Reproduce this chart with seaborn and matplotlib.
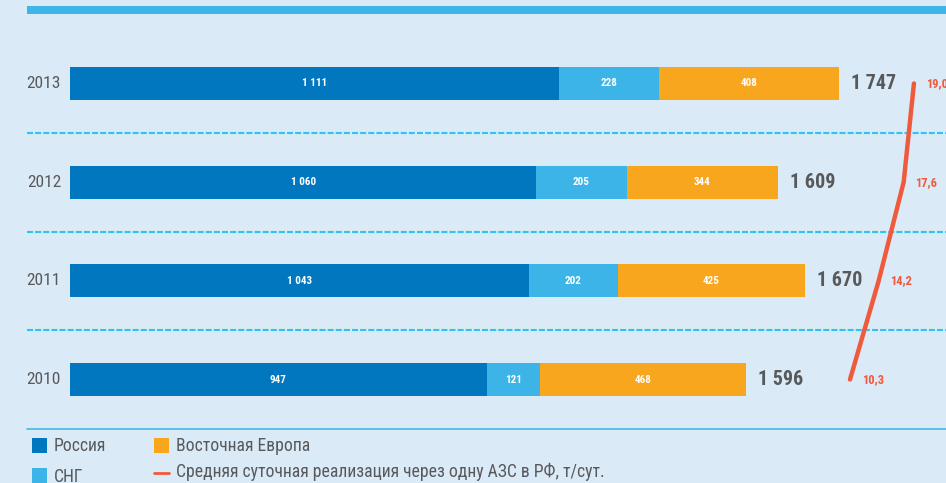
import matplotlib
matplotlib.use("Agg")
import matplotlib.pyplot as plt
from matplotlib.patches import Rectangle
from matplotlib.lines import Line2D
import numpy as np
import pandas as pd
import seaborn as sns

# Data: retail sales volumes by region and average daily sales per station
years = ["2013", "2012", "2011", "2010"]
russia = [1111, 1060, 1043, 947]
cis = [228, 205, 202, 121]
east_europe = [408, 344, 425, 468]
totals = [1747, 1609, 1670, 1596]
avg_daily = [19.0, 17.6, 14.2, 10.3]

legend_labels = ["Россия", "СНГ", "Восточная Европа",
                 "Средняя суточная реализация через одну АЗС в РФ, т/сут."]

# Colours
BG = "#DAEAF7"
C_RU = "#0077BF"
C_CIS = "#3DB4E7"
C_EE = "#F8A61E"
C_RED = "#F05A3C"
C_TEXT = "#58595B"
C_RULE = "#2EC4F2"

sns.set_style("white")
plt.rcParams["font.family"] = ["Roboto Condensed", "DejaVu Sans"]

W, H = 946, 483
fig = plt.figure(figsize=(W / 100, H / 100), dpi=100, facecolor=BG)

def fx(px):
    return px / W

def fy(py):
    return 1 - py / H

# Main axes spans the whole canvas; x in sales units, y in category slots
PX_PER_UNIT = 0.44
X0 = 70
ax = fig.add_axes([0, 0, 1, 1])
ax.set_facecolor(BG)

df = pd.DataFrame({
    "year": years,
    "ru": russia,
    "ru_cis": np.array(russia) + np.array(cis),
    "all": np.array(russia) + np.array(cis) + np.array(east_europe),
})

bar_w = 0.334
for col, colr in (("all", C_EE), ("ru_cis", C_CIS), ("ru", C_RU)):
    sns.barplot(data=df, x=col, y="year", order=years, color=colr,
                saturation=1, width=bar_w, linewidth=0, ax=ax)

ax.set_xlim(-X0 / PX_PER_UNIT, (W - X0) / PX_PER_UNIT)
slot = 98.67
ax.set_ylim(3 + (H - 379.5) / slot, -83.5 / slot)
ax.axis("off")

# Segment value labels
seg_kw = dict(ha="center", va="center", color="white", fontsize=8,
              fontweight="bold")
for i in range(len(years)):
    ax.text(russia[i] / 2, i, f"{russia[i]:,}".replace(",", " "), **seg_kw)
    ax.text(russia[i] + cis[i] / 2, i, f"{cis[i]}", **seg_kw)
    ax.text(russia[i] + cis[i] + east_europe[i] / 2, i,
            f"{east_europe[i]}", **seg_kw)
    ax.annotate(f"{totals[i]:,}".replace(",", " "),
                (df["all"][i], i), xytext=(9, 0), textcoords="offset points",
                ha="left", va="center", color=C_TEXT, fontsize=14.5,
                fontweight="bold")
    ax.text((61 - X0) / PX_PER_UNIT, i, years[i], ha="right", va="center",
            color=C_TEXT, fontsize=12.5)

# Dashed separators between the bars
x_left = (27 - X0) / PX_PER_UNIT
x_right = (W - X0) / PX_PER_UNIT
for yy in (0.5, 1.5, 2.5):
    ax.plot([x_left, x_right], [yy, yy], color=C_RULE, lw=1.5,
            linestyle=(0, (2.9, 1.0)), zorder=1)

# Average daily sales line on its own horizontal scale
ax2 = ax.twiny()
PX_PER_T = 7.35
ax2.set_xlim(10.3 - 850 / PX_PER_T, 10.3 + (W - 850) / PX_PER_T)
pos = np.arange(len(years))
line_df = pd.DataFrame({"v": avg_daily, "p": pos})
sns.lineplot(data=line_df, x="v", y="p", sort=False, estimator=None,
             orient="y", color=C_RED, lw=3.2, ax=ax2,
             solid_capstyle="round")
ax2.set_ylim(ax.get_ylim())
ax2.axis("off")
for v, p in zip(avg_daily, pos):
    ax2.annotate(f"{v:.1f}".replace(".", ","), (v, p), xytext=(8.5, 0),
                 textcoords="offset points", ha="left", va="center",
                 color=C_RED, fontsize=9, fontweight="bold")

# Header band and bottom rule
fig.add_artist(Rectangle((fx(27), fy(14)), fx(W - 27), 8 / H,
                         transform=fig.transFigure, color="#3DB5E6", lw=0))
fig.add_artist(Line2D([fx(27), 1], [fy(429), fy(429)],
                      transform=fig.transFigure, color="#3DBDE8", lw=1.2))

# Legend
def legend_box(x, y, colr):
    fig.add_artist(Rectangle((fx(x), fy(y + 15)), 15 / W, 15 / H,
                             transform=fig.transFigure, color=colr, lw=0))

leg_kw = dict(ha="left", va="center", color=C_TEXT, fontsize=12.7)
legend_box(32, 438, C_RU)
fig.text(fx(54), fy(446), legend_labels[0], **leg_kw)
legend_box(32, 468, C_CIS)
fig.text(fx(54), fy(477), legend_labels[1], **leg_kw)
legend_box(154, 438, C_EE)
fig.text(fx(176), fy(446), legend_labels[2], **leg_kw)
fig.add_artist(Line2D([fx(154), fx(169)], [fy(473), fy(473)],
                      transform=fig.transFigure, color=C_RED, lw=2))
fig.text(fx(176), fy(472), legend_labels[3], **leg_kw)

fig.savefig("out.png", dpi=100, facecolor=BG)
